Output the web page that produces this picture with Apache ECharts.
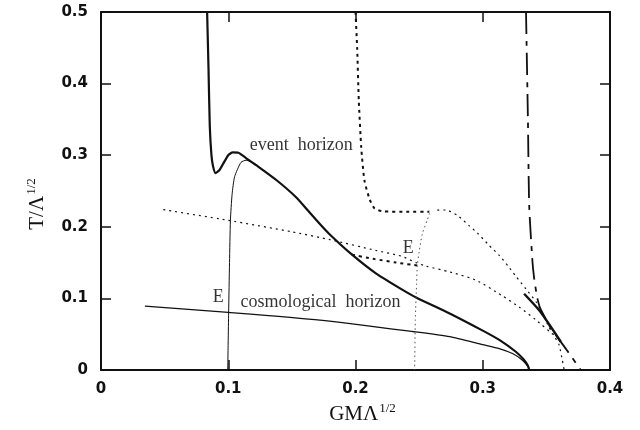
<!DOCTYPE html>
<html>
<head>
<meta charset="utf-8">
<script src="https://cdn.jsdelivr.net/npm/echarts@6/dist/echarts.min.js"></script>
<style>
  html, body { margin: 0; padding: 0; background: #fff; }
  #chart { width: 640px; height: 430px; }
</style>
</head>
<body>
<div id="chart"></div>
<script>
// axis ticks
var xTicks = [0, 0.1, 0.2, 0.3, 0.4];
var yTicks = [0, 0.1, 0.2, 0.3, 0.4, 0.5];

// thick solid: event horizon branch
var eventHorizon = [[0.0834, 0.5], [0.0845, 0.42], [0.0855, 0.34], [0.0868, 0.30], [0.088, 0.285], [0.090, 0.275],
  [0.093, 0.279], [0.096, 0.288], [0.100, 0.300], [0.1035, 0.304], [0.108, 0.3035], [0.114, 0.296],
  [0.122, 0.286], [0.138, 0.265], [0.1535, 0.241], [0.163, 0.222], [0.172, 0.204], [0.180, 0.189],
  [0.198, 0.160], [0.216, 0.135], [0.236, 0.113], [0.248, 0.101], [0.274, 0.079], [0.300, 0.055],
  [0.313, 0.042], [0.326, 0.0255], [0.332, 0.015], [0.3355, 0.006], [0.3365, 0]];

// thin solid rising at x = 0.1
var risingBranch = [[0.0996, 0], [0.1003, 0.08], [0.101, 0.15], [0.1017, 0.209], [0.103, 0.245], [0.105, 0.270],
  [0.110, 0.290], [0.114, 0.293], [0.122, 0.287]];

// thin solid: cosmological horizon
var cosmoHorizon = [[0.0345, 0.0893], [0.100, 0.0805], [0.172, 0.0697], [0.246, 0.0534], [0.274, 0.0465],
  [0.300, 0.0355], [0.313, 0.030], [0.3234, 0.023], [0.331, 0.014], [0.3355, 0.005], [0.3365, 0]];

// thin dotted, long line from the left
var dotLong = [[0.049, 0.224], [0.100, 0.209], [0.150, 0.193], [0.180, 0.182], [0.216, 0.167], [0.236, 0.159],
  [0.2476, 0.150], [0.2555, 0.145], [0.274, 0.137], [0.2947, 0.1255], [0.315, 0.104], [0.3286, 0.088],
  [0.3417, 0.070], [0.355, 0.050]];

// thick dotted, top and plateau
var dotThickTop = [[0.200, 0.5], [0.2013, 0.45], [0.2026, 0.376], [0.2045, 0.311], [0.207, 0.265],
  [0.211, 0.239], [0.215, 0.2255], [0.222, 0.2215], [0.240, 0.221], [0.258, 0.221]];

// thick dotted, from E back to the event horizon curve
var dotThickLow = [[0.2485, 0.146], [0.232, 0.150], [0.215, 0.155], [0.197, 0.161]];

// thin dotted, nearly vertical near x = 0.25
var dotVertical = [[0.2583, 0.219], [0.2565, 0.210], [0.2525, 0.190], [0.250, 0.165], [0.2486, 0.146],
  [0.248, 0.120], [0.247, 0.070], [0.2465, 0]];

// thin dotted hump down to x = 0.364
var dotHump = [[0.2643, 0.2232], [0.271, 0.2235], [0.280, 0.216], [0.289, 0.202], [0.296, 0.191],
  [0.305, 0.174], [0.313, 0.160], [0.320, 0.145], [0.326, 0.131], [0.334, 0.113], [0.342, 0.095],
  [0.348, 0.075], [0.352, 0.060], [0.357, 0.045], [0.360, 0.035], [0.3625, 0.014], [0.364, 0]];

// long dash-dot, nearly vertical near x = 0.34
var dashLong = [[0.334, 0.5], [0.3355, 0.35], [0.3365, 0.23], [0.339, 0.153], [0.3404, 0.128],
  [0.3427, 0.102], [0.345, 0.087], [0.352, 0.063], [0.359, 0.045], [0.366, 0.028], [0.377, 0]];

// short thick solid segment
var thickSegment = [[0.3325, 0.1065], [0.345, 0.082], [0.3613, 0.0395]];

// annotations [x, y, text]
var notes = [[0.1169, 0.3138, 'event  horizon'], [0.1096, 0.0948, 'cosmological  horizon'],
  [0.0878, 0.1018, 'E'], [0.2371, 0.170, 'E']];

var chart = echarts.init(document.getElementById('chart'));

function line(data, width, type, color) {
  return {
    type: 'line',
    data: data,
    showSymbol: false,
    smooth: 0.2,
    silent: true,
    lineStyle: { color: color || '#111', width: width, type: type || 'solid' }
  };
}

var tickFont = { fontFamily: 'DejaVu Sans', fontWeight: 'bold', fontSize: 15, color: '#111' };
var boxLine = { show: true, onZero: false, lineStyle: { color: '#111', width: 2 } };
var boxTick = { inside: true, length: 10, lineStyle: { color: '#111', width: 1.5 } };
var nameRich = {
  a: { fontFamily: 'Liberation Serif', fontSize: 21, color: '#111', verticalAlign: 'bottom' },
  b: { fontFamily: 'Liberation Serif', fontSize: 13, color: '#111', verticalAlign: 'bottom', padding: [0, 0, 10, 1] }
};

chart.setOption({
  backgroundColor: '#fff',
  animation: false,
  grid: { left: 101, right: 30, top: 12, bottom: 60 },
  xAxis: [{
    type: 'value', min: 0, max: 0.4, interval: 0.1,
    axisLine: boxLine,
    axisTick: boxTick,
    splitLine: { show: false },
    axisLabel: Object.assign({ margin: 12, formatter: function (v) { return xTicks.indexOf(+v.toFixed(1)) >= 0 ? String(+v.toFixed(1)) : ''; } }, tickFont),
    name: '{a|GMΛ}{b|1/2}',
    nameLocation: 'middle',
    nameGap: 30,
    nameTextStyle: { rich: nameRich, padding: [0, 0, 0, 14] }
  }, {
    type: 'value', min: 0, max: 0.4, interval: 0.1, position: 'top',
    axisLine: boxLine,
    axisTick: boxTick,
    axisLabel: { show: false },
    splitLine: { show: false }
  }],
  yAxis: [{
    type: 'value', min: 0, max: 0.5, interval: 0.1,
    axisLine: boxLine,
    axisTick: boxTick,
    splitLine: { show: false },
    axisLabel: Object.assign({ margin: 13, formatter: function (v) { return yTicks.indexOf(+v.toFixed(1)) >= 0 ? String(+v.toFixed(1)) : ''; } }, tickFont),
    name: '{a|T/Λ}{b|1/2}',
    nameLocation: 'middle',
    nameRotate: 90,
    nameGap: 53,
    nameTextStyle: { rich: nameRich, padding: [0, 26, 0, 0] }
  }, {
    type: 'value', min: 0, max: 0.5, interval: 0.1, position: 'right',
    axisLine: boxLine,
    axisTick: boxTick,
    axisLabel: { show: false },
    splitLine: { show: false }
  }],
  series: [
    line(eventHorizon, 2.2),
    line(risingBranch, 1),
    line(cosmoHorizon, 1.3),
    line(dotLong, 1.2, [2, 4]),
    line(dotThickTop, 2, [3, 4]),
    line(dotThickLow, 2, [3, 4]),
    line(dotVertical, 1, [1.5, 3], '#555'),
    line(dotHump, 1.2, [2, 4]),
    line(dashLong, 1.8, [22, 7, 5, 7]),
    line(thickSegment, 2.4),
    {
      type: 'scatter',
      symbolSize: 0,
      silent: true,
      data: notes.map(function (n) { return { value: [n[0], n[1]], name: n[2] }; }),
      label: {
        show: true,
        position: 'right',
        distance: 0,
        formatter: function (p) { return p.name; },
        fontFamily: 'Liberation Serif',
        fontSize: 18,
        color: '#000'
      }
    }
  ]
});
</script>
</body>
</html>
